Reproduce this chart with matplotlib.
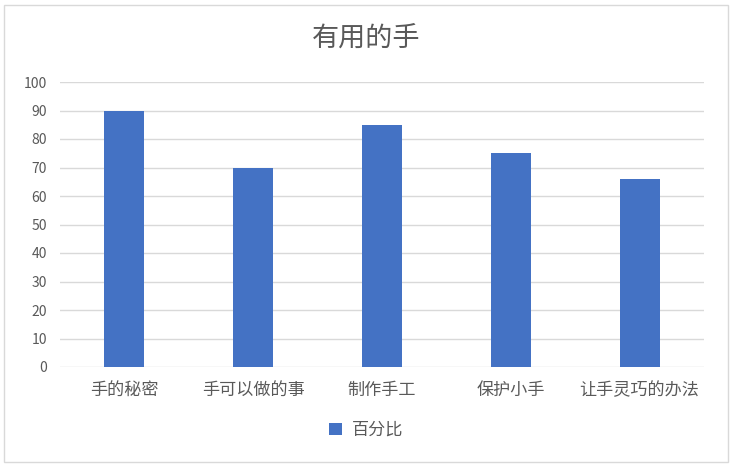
import matplotlib.pyplot as plt
from matplotlib.patches import Rectangle

plt.rcParams['font.family'] = ['Noto Sans CJK SC', 'DejaVu Sans']

categories = ['手的秘密', '手可以做的事', '制作手工', '保护小手', '让手灵巧的办法']
values = [90, 70, 85, 75, 66]
series_name = '百分比'
title = '有用的手'

text_color = '#595959'
bar_color = '#4472C4'
grid_color = '#D9D9D9'

fig = plt.figure(figsize=(7.32, 4.66), dpi=100)
ax = fig.add_axes([60 / 732, 99 / 466, 644 / 732, 285 / 466])

x = range(len(categories))
ax.bar(x, values, width=0.31, color=bar_color, label=series_name, zorder=3)

ax.set_xlim(-0.5, len(categories) - 0.5)
ax.set_ylim(0, 100)
ax.set_yticks(range(0, 101, 10))
ax.set_xticks(list(x))
ax.set_xticklabels(categories, fontsize=12.3)
ax.grid(axis='y', color=grid_color, linewidth=1, zorder=0)
ax.tick_params(axis='both', length=0, colors=text_color)
ax.tick_params(axis='x', pad=10)
ax.tick_params(axis='y', pad=9.5, labelsize=10)
for s in ax.spines.values():
    s.set_visible(False)

fig.text(0.5, 1 - 38 / 466, title, ha='center', va='center', fontsize=19.5, color=text_color)

leg = fig.legend(loc='center', bbox_to_anchor=(0.5, 1 - 430 / 466), frameon=False,
                 fontsize=12.3, handlelength=0.75, handleheight=0.75, handletextpad=0.6)
for t in leg.get_texts():
    t.set_color(text_color)

# figure border
fig.patches.append(Rectangle((4 / 732, 4 / 466), 724 / 732, 457 / 466, transform=fig.transFigure,
                             fill=False, edgecolor=grid_color, linewidth=1))

fig.savefig('out.png', dpi=100)
